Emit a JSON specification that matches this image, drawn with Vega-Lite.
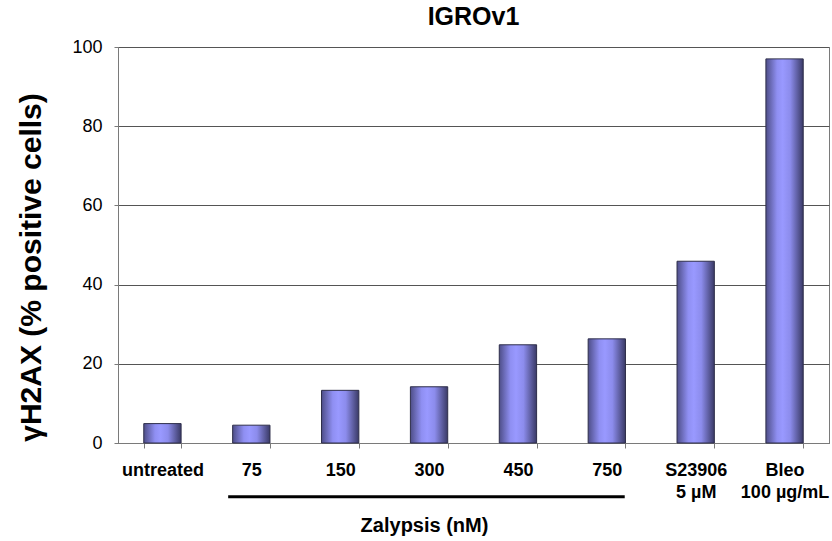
{
  "$schema": "https://vega.github.io/schema/vega-lite/v6.json",
  "width": 711,
  "height": 396,
  "autosize": {"type": "none"},
  "padding": {"left": 118, "top": 47, "right": 3, "bottom": 98},
  "background": "white",
  "config": {
    "font": "Liberation Sans",
    "view": {"stroke": "#7a7a7a", "strokeWidth": 1}
  },
  "title": {
    "text": "IGROv1",
    "fontSize": 25,
    "fontWeight": "bold",
    "color": "black",
    "anchor": "middle",
    "offset": 8
  },
  "datasets": {
    "bars": [
      {"group": "untreated", "value": 4.9},
      {"group": "75", "value": 4.5},
      {"group": "150", "value": 13.3},
      {"group": "300", "value": 14.2},
      {"group": "450", "value": 24.8},
      {"group": "750", "value": 26.3},
      {"group": "S23906|5 µM", "value": 45.9},
      {"group": "Bleo|100 µg/mL", "value": 97.0}
    ],
    "bracket": [
      {"from": "75", "to": "750", "level": -13.6}
    ]
  },
  "layer": [
    {
      "data": {"name": "bars"},
      "mark": {
        "type": "bar",
        "stroke": "#2e2e4a",
        "strokeWidth": 1,
        "color": {
          "gradient": "linear",
          "x1": 0, "y1": 0, "x2": 1, "y2": 0,
          "stops": [
            {"offset": 0, "color": "#4e4e88"},
            {"offset": 0.3, "color": "#8f8ff2"},
            {"offset": 0.45, "color": "#9999ff"},
            {"offset": 0.65, "color": "#8c8cec"},
            {"offset": 1, "color": "#3a3a66"}
          ]
        }
      },
      "encoding": {
        "x": {
          "field": "group",
          "type": "nominal",
          "sort": ["untreated", "75", "150", "300", "450", "750", "S23906|5 µM", "Bleo|100 µg/mL"],
          "scale": {
            "domain": ["untreated", "75", "150", "300", "450", "750", "S23906|5 µM", "Bleo|100 µg/mL"],
            "paddingInner": 0.58,
            "paddingOuter": 0.29
          },
          "axis": {
            "title": "Zalypsis (nM)",
            "titleFontSize": 20,
            "titleFontWeight": "bold",
            "titleColor": "black",
            "titleX": 306,
            "titleY": 82,
            "titleBaseline": "middle",
            "titleAlign": "center",
            "labelAngle": 0,
            "labelExpr": "split(datum.label, '|')",
            "labelFontSize": 18,
            "labelFontWeight": "bold",
            "labelColor": "black",
            "labelLineHeight": 22,
            "labelPadding": 13,
            "labelBaseline": "top",
            "tickBand": "extent",
            "tickSize": 5,
            "tickColor": "#7a7a7a",
            "domainColor": "#7a7a7a",
            "grid": false
          }
        },
        "y": {
          "field": "value",
          "type": "quantitative",
          "scale": {"domain": [0, 100], "nice": false},
          "axis": {
            "title": "γH2AX (% positive cells)",
            "titleFontSize": 30,
            "titleFontWeight": "bold",
            "titleColor": "black",
            "titleX": -87,
            "titleY": 220,
            "titleAngle": -90,
            "titleAlign": "center",
            "titleBaseline": "middle",
            "values": [0, 20, 40, 60, 80, 100],
            "labelFontSize": 18,
            "labelColor": "black",
            "labelPadding": 12,
            "tickSize": 4,
            "tickColor": "#7a7a7a",
            "domainColor": "#7a7a7a",
            "grid": true,
            "gridColor": "#555555",
            "gridWidth": 1
          }
        }
      }
    },
    {
      "data": {"name": "bracket"},
      "mark": {"type": "rule", "color": "black", "strokeWidth": 3},
      "encoding": {
        "x": {"field": "from", "type": "nominal", "bandPosition": -0.12},
        "x2": {"field": "to", "bandPosition": 0.98},
        "y": {"field": "level", "type": "quantitative"}
      }
    }
  ]
}
